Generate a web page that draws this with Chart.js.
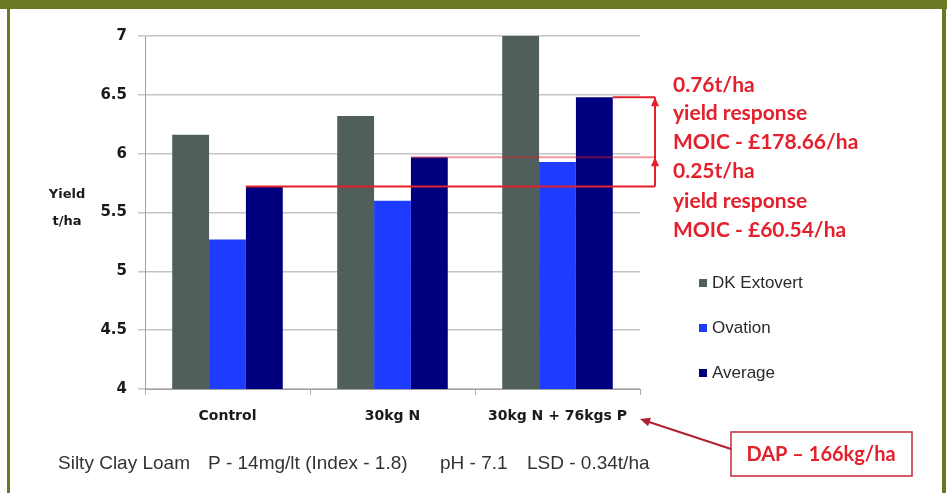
<!DOCTYPE html>
<html lang="en">
<head>
  <meta charset="UTF-8" />
  <title>Yield response</title>
  <script src="https://cdn.jsdelivr.net/npm/chart.js"></script>
  <style>
    body { margin: 0; background: #fff; }
    #wrap { width: 947px; height: 493px; }
  </style>
</head>
<body>
  <div id="wrap"><canvas id="yieldChart" width="947" height="493"></canvas></div>

  <script>
    const categories = ['Control', '30kg N', '30kg N + 76kgs P'];
    const dkExtovert = [6.16, 6.32, 7.01];
    const ovation = [5.27, 5.60, 5.93];
    const average = [5.72, 5.97, 6.48];
    const yTicks = [4, 4.5, 5, 5.5, 6, 6.5, 7];

    const responseNotes = [
      ['0.76t/ha', 'yield response', 'MOIC - £178.66/ha'],
      ['0.25t/ha', 'yield response', 'MOIC - £60.54/ha']
    ];
    const footNotes = ['Silty Clay Loam', 'P - 14mg/lt (Index - 1.8)', 'pH - 7.1', 'LSD - 0.34t/ha'];
    const dapNote = 'DAP \u2013 166kg/ha';

    const RED = '#e3202b';
    const GREEN = '#6a7a22';

    function arrowHead(ctx, x, y, dx, dy, size) {
      const len = Math.hypot(dx, dy);
      const ux = dx / len, uy = dy / len;
      ctx.beginPath();
      ctx.moveTo(x, y);
      ctx.lineTo(x - ux * size - uy * size * 0.45, y - uy * size + ux * size * 0.45);
      ctx.lineTo(x - ux * size + uy * size * 0.45, y - uy * size - ux * size * 0.45);
      ctx.closePath();
      ctx.fill();
    }

    const decorations = {
      id: 'decorations',
      beforeDraw(chart) {
        const ctx = chart.ctx;
        ctx.save();
        ctx.fillStyle = '#fff';
        ctx.fillRect(0, 0, chart.width, chart.height);
        ctx.restore();
      },
      afterDraw(chart) {
        const ctx = chart.ctx;
        const y = chart.scales.y;
        const bars = chart.getDatasetMeta(2).data;
        const lineX = 655;

        ctx.save();
        // frame
        ctx.fillStyle = GREEN;
        ctx.fillRect(0, 0, chart.width, 9);
        ctx.fillRect(7, 0, 3, chart.height);
        ctx.fillRect(942, 0, 4, chart.height);

        // axis title
        ctx.fillStyle = '#1a1a1a';
        ctx.font = 'bold 13px "DejaVu Sans"';
        ctx.textAlign = 'center';
        ctx.textBaseline = 'middle';
        ctx.fillText('Yield', 67, 195);
        ctx.fillText('t/ha', 67, 222);

        // response lines
        const yBase = y.getPixelForValue(average[0]);
        const yMid = y.getPixelForValue(average[1]);
        const yTop = y.getPixelForValue(average[2]);
        ctx.strokeStyle = RED;
        ctx.lineWidth = 2;
        ctx.beginPath();
        ctx.moveTo(bars[0].x - bars[0].width / 2, yBase);
        ctx.lineTo(lineX, yBase);
        ctx.moveTo(bars[2].x + bars[2].width / 2, yTop);
        ctx.lineTo(lineX, yTop);
        ctx.moveTo(lineX, yBase);
        ctx.lineTo(lineX, yTop);
        ctx.stroke();
        ctx.strokeStyle = 'rgba(227,32,43,0.45)';
        ctx.beginPath();
        ctx.moveTo(bars[1].x - bars[1].width / 2, yMid);
        ctx.lineTo(lineX, yMid);
        ctx.stroke();
        ctx.fillStyle = RED;
        arrowHead(ctx, lineX, yTop, 0, -1, 9);
        arrowHead(ctx, lineX, yMid, 0, -1, 9);

        // response text
        ctx.font = 'bold 21px Lato';
        ctx.textAlign = 'left';
        ctx.textBaseline = 'middle';
        const rows = [85, 113, 142, 171, 201, 230];
        responseNotes.flat().forEach((t, i) => ctx.fillText(t, 673, rows[i]));

        // legend
        const legendY = [283, 328, 373];
        ctx.font = '17px "Liberation Sans"';
        chart.data.datasets.forEach((ds, i) => {
          ctx.fillStyle = ds.backgroundColor;
          ctx.fillRect(699, legendY[i] - 4, 8, 8);
          ctx.fillStyle = '#2a2a2a';
          ctx.fillText(ds.label, 712, legendY[i]);
        });

        // footnote
        ctx.fillStyle = '#333';
        ctx.font = '19px "Liberation Sans"';
        const footX = [58, 208, 440, 527];
        footNotes.forEach((t, i) => ctx.fillText(t, footX[i], 464));

        // DAP box and arrow
        ctx.strokeStyle = '#c8283a';
        ctx.lineWidth = 1.5;
        ctx.strokeRect(731, 432, 181, 44);
        ctx.fillStyle = RED;
        ctx.font = 'bold 20px Lato';
        ctx.textAlign = 'center';
        ctx.fillText(dapNote, 821, 455);
        ctx.strokeStyle = '#b02030';
        ctx.lineWidth = 2;
        ctx.beginPath();
        ctx.moveTo(731, 449);
        ctx.lineTo(646, 421);
        ctx.stroke();
        ctx.fillStyle = '#b02030';
        arrowHead(ctx, 640, 419, -86, -28, 10);
        ctx.restore();
      }
    };

    new Chart(document.getElementById('yieldChart'), {
      type: 'bar',
      data: {
        labels: categories,
        datasets: [
          { label: 'DK Extovert', data: dkExtovert, backgroundColor: '#505f5c' },
          { label: 'Ovation', data: ovation, backgroundColor: '#1e3cff' },
          { label: 'Average', data: average, backgroundColor: '#00007e' }
        ]
      },
      options: {
        responsive: false,
        animation: false,
        layout: { padding: { left: 0, right: 307, top: 36, bottom: 0 } },
        datasets: { bar: { barPercentage: 1, categoryPercentage: 0.67 } },
        plugins: { legend: { display: false }, tooltip: { enabled: false } },
        scales: {
          x: {
            afterFit(scale) { scale.height = 104; },
            grid: { drawOnChartArea: false, color: '#b0b0b0', tickLength: 6 },
            border: { color: '#a0a0a0' },
            ticks: { color: '#1a1a1a', font: { family: 'DejaVu Sans', size: 14, weight: 'bold' }, padding: 13 }
          },
          y: {
            min: 4,
            max: 7,
            afterFit(scale) { scale.width = 145; },
            afterBuildTicks(scale) { scale.ticks = yTicks.map(v => ({ value: v })); },
            grid: { color: '#c4c4c4', lineWidth: 1.5, tickLength: 7 },
            border: { color: '#a0a0a0' },
            ticks: {
              color: '#1a1a1a',
              font: { family: 'DejaVu Sans', size: 15, weight: 'bold' },
              padding: 11,
              callback: v => String(v)
            }
          }
        }
      },
      plugins: [decorations]
    });
  </script>
</body>
</html>
